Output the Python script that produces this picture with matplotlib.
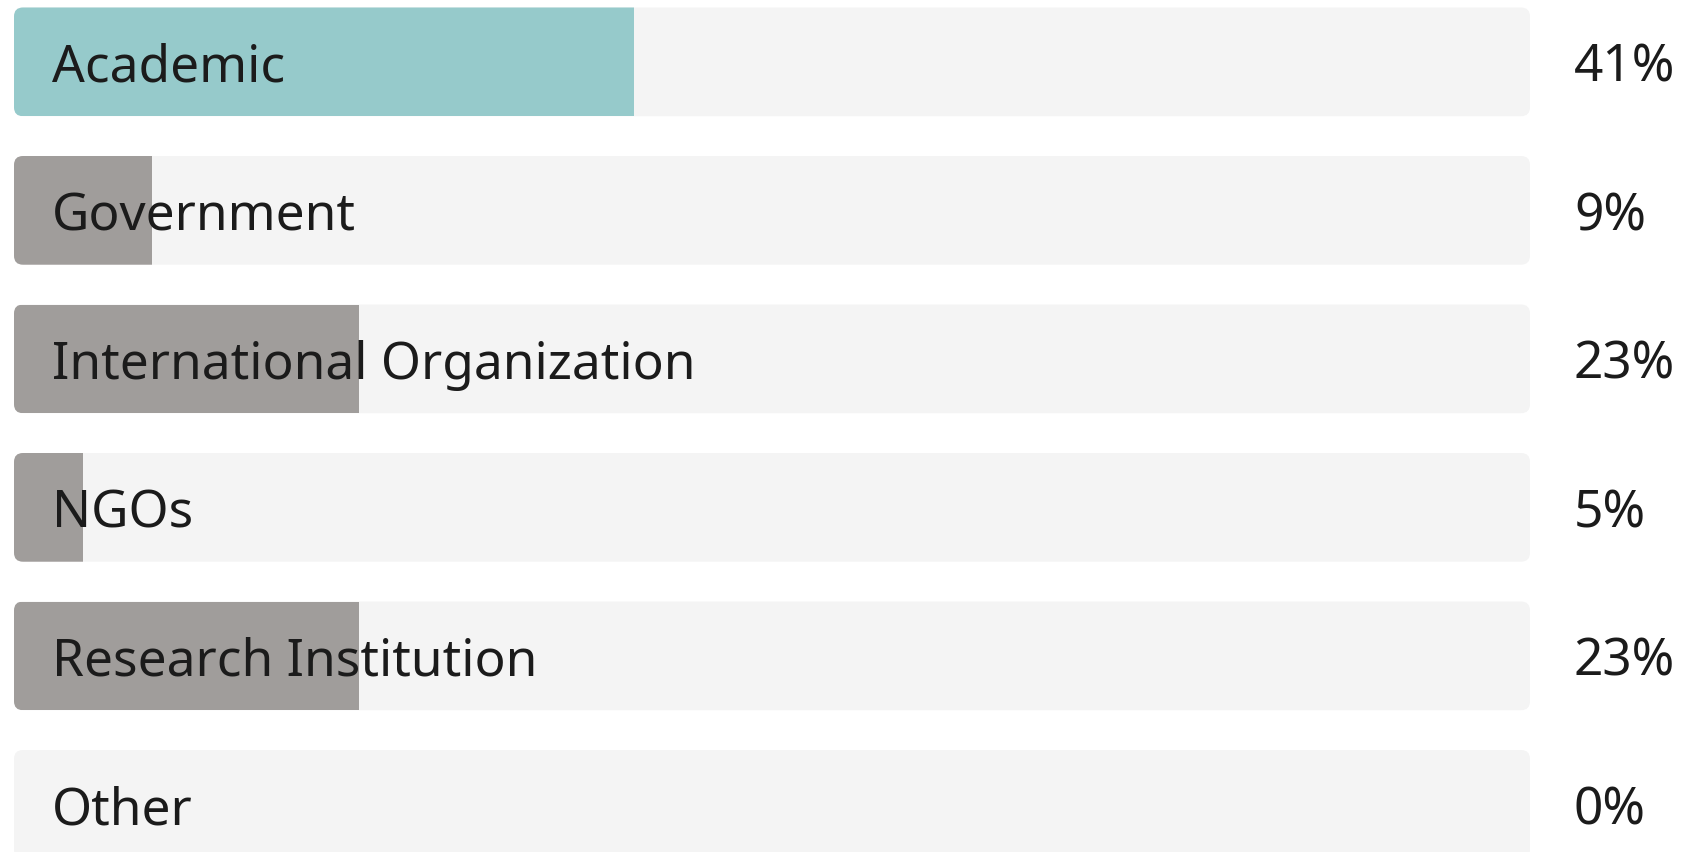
import matplotlib
matplotlib.use("Agg")
import matplotlib.pyplot as plt
from matplotlib.patches import FancyBboxPatch, Rectangle

# data: respondent counts per group (labels show rounded shares)
categories = ["Academic", "Government", "International Organization",
              "NGOs", "Research Institution", "Other"]
counts = [9, 2, 5, 1, 5, 0]
highlight = "Academic"

total = sum(counts)
shares = [100.0 * c / total for c in counts]

plt.rcParams["font.family"] = ["Noto Sans", "DejaVu Sans"]

W, H = 1687, 852
fig = plt.figure(figsize=(W / 100, H / 100), dpi=100)
ax = fig.add_axes([0, 0, 1, 1])

# pixel layout -> data units (track 0..100 in x, one row per unit in y)
track_left, track_right = 14, 1530
px_x = (track_right - track_left) / 100.0
pitch = 148.5
row0 = 7.5 + 54.35
ax.set_xlim(-track_left / px_x, (W - track_left) / px_x)
ax.set_ylim((H - row0) / pitch, -row0 / pitch)
ax.axis("off")

bar_h = 108.7 / pitch
r_px = 9
rx = r_px / px_x
aspect = (r_px / pitch) / rx

for i, (cat, p) in enumerate(zip(categories, shares)):
    y0 = i - bar_h / 2
    track = FancyBboxPatch((0, y0), 100, bar_h,
                           boxstyle=f"round,pad=0,rounding_size={rx}",
                           mutation_aspect=aspect,
                           fc="#f4f4f4", ec="none", zorder=1)
    ax.add_patch(track)
    if p > 0:
        col = "#96cacb" if cat == highlight else "#a09d9b"
        fill = Rectangle((0, y0), p, bar_h, fc=col, ec="none", zorder=2)
        ax.add_patch(fill)
        fill.set_clip_path(track)
    ax.text((52 - track_left) / px_x, i + 0.042, cat, fontsize=37,
            color="#1b1b1b", va="center", ha="left", zorder=3)
    ax.text((1574 - track_left) / px_x, i + 0.042, f"{round(p)}%", fontsize=37,
            color="#1b1b1b", va="center", ha="left", zorder=3)

fig.savefig("out.png", dpi=100, facecolor="white")
